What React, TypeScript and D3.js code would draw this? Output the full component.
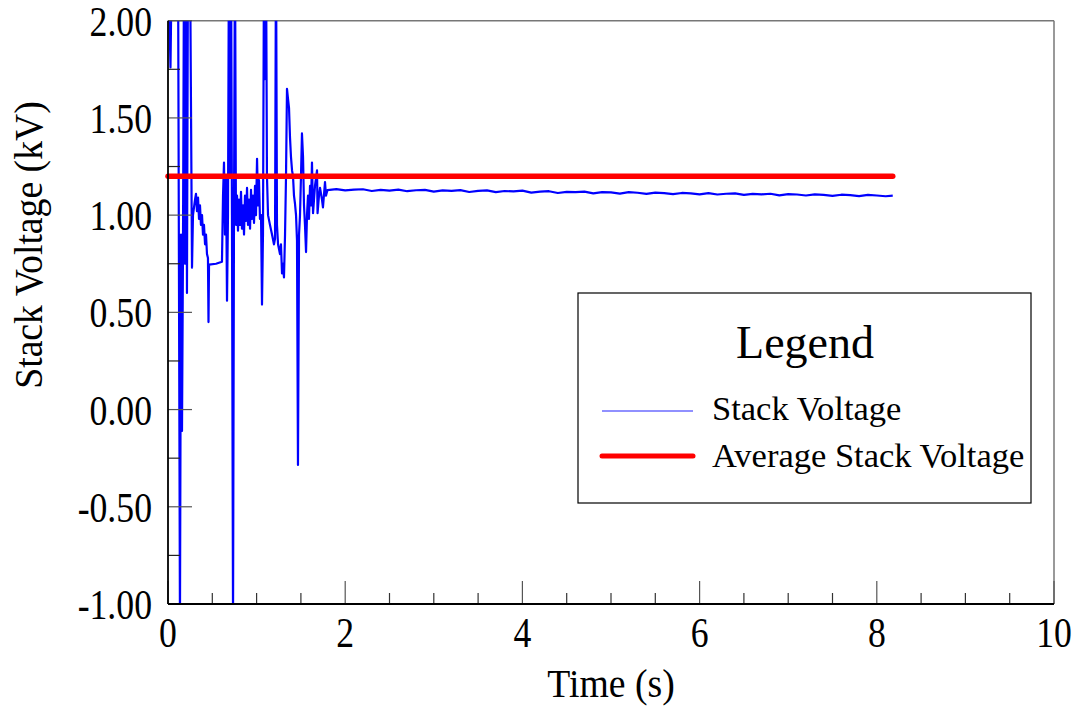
import React from "react";
import * as d3 from "d3";

// ---------- data ----------
const X_MAJOR = [0, 2, 4, 6, 8, 10];
const X_MINOR = [0.5, 1, 1.5, 2.5, 3, 3.5, 4.5, 5, 5.5, 6.5, 7, 7.5, 8.5, 9, 9.5];
const Y_MAJOR = [-1, -0.5, 0, 0.5, 1, 1.5, 2];
const Y_MINOR = [-0.75, -0.25, 0.25, 0.75, 1.25, 1.75];

// transient (start-up) part of the stack voltage, time (s)
const TRANSIENT_T = [
  0.0, 0.028, 0.045, 0.113, 0.135, 0.147, 0.158, 0.169, 0.181, 0.192, 0.203, 0.214, 0.226, 0.248,
  0.271, 0.282, 0.305, 0.316, 0.327, 0.339, 0.35, 0.361, 0.372, 0.384, 0.395, 0.406, 0.418, 0.429,
  0.44, 0.451, 0.457, 0.463, 0.542, 0.609, 0.621, 0.632, 0.643, 0.655, 0.666, 0.677, 0.688, 0.7,
  0.711, 0.722, 0.734, 0.745, 0.756, 0.767, 0.779, 0.79, 0.801, 0.813, 0.824, 0.835, 0.847, 0.858,
  0.869, 0.88, 0.892, 0.903, 0.914, 0.926, 0.937, 0.948, 0.959, 0.971, 0.982, 0.993, 1.005, 1.016,
  1.027, 1.038, 1.05, 1.061, 1.072, 1.084, 1.095, 1.106, 1.117, 1.129, 1.151, 1.174, 1.196, 1.208,
  1.219, 1.23, 1.242, 1.264, 1.275, 1.287, 1.298, 1.309, 1.321, 1.332, 1.343, 1.354, 1.366, 1.377,
  1.388, 1.4, 1.411, 1.422, 1.433, 1.445, 1.456, 1.467, 1.479, 1.49, 1.501, 1.512, 1.524, 1.535,
  1.546, 1.558, 1.569, 1.58, 1.591, 1.603, 1.614, 1.625, 1.637, 1.659, 1.682, 1.688, 1.704, 1.716,
  1.738, 1.749, 1.772, 1.783,
];
// stack voltage (kV)
const TRANSIENT_V = [
  2.4, 1.76, 2.4, 2.4, -1.1, 0.9, -0.11, 0.8, 2.4, 0.75, 2.4, 0.6, 2.4, 2.4,
  0.73, 1.0, 1.08, 1.11, 1.02, 1.09, 0.98, 1.05, 0.95, 1.0, 0.9, 0.95, 0.85, 0.9,
  0.8, 0.78, 0.45, 0.745, 0.75, 0.76, 1.1, 1.27, 0.9, 1.2, 0.56, 1.0, 2.4, 1.2,
  2.4, 1.0, -1.1, 1.05, 2.4, 0.95, 1.1, 0.92, 1.08, 0.95, 1.12, 0.93, 1.05, 0.9,
  1.1, 0.97, 1.14, 0.95, 1.08, 0.93, 1.13, 0.98, 1.1, 0.96, 1.15, 1.0, 1.29, 1.05,
  1.18, 0.98, 1.0, 0.54, 0.9, 2.4, 1.7, 2.4, 1.2, 1.0, 0.95, 0.9, 0.85, 0.88,
  2.4, 0.95, 0.85, 0.8, 0.85, 0.7, 0.75, 0.68, 0.9, 1.2, 1.65, 1.6, 1.55, 1.4,
  1.3, 1.23, 1.2, 1.1, 1.06, 1.0, 0.87, -0.285, 0.9, 1.0, 1.2, 1.42, 1.3, 1.05,
  0.95, 0.81, 1.0, 1.1, 0.98, 1.15, 1.05, 1.27, 1.01, 1.15, 1.23, 1.01, 1.1, 1.14,
  1.08, 1.04, 1.17, 1.1,
];

// settled part of the stack voltage
const STEADY_T = [
  1.8, 1.9, 2.0, 2.1, 2.2, 2.3, 2.4, 2.5, 2.6, 2.7, 2.8, 2.9, 3.0, 3.1, 3.2, 3.3, 3.4, 3.5, 3.6, 3.7,
  3.8, 3.9, 4.0, 4.1, 4.2, 4.3, 4.4, 4.5, 4.6, 4.7, 4.8, 4.9, 5.0, 5.1, 5.2, 5.3, 5.4, 5.5, 5.6, 5.7,
  5.8, 5.9, 6.0, 6.1, 6.2, 6.3, 6.4, 6.5, 6.6, 6.7, 6.8, 6.9, 7.0, 7.1, 7.2, 7.3, 7.4, 7.5, 7.6, 7.7,
  7.8, 7.9, 8.0, 8.1, 8.18,
];
const STEADY_V = [
  1.129, 1.134, 1.127, 1.131, 1.133, 1.124, 1.13, 1.126, 1.131, 1.123, 1.128, 1.13, 1.121, 1.127,
  1.125, 1.129, 1.119, 1.125, 1.127, 1.118, 1.124, 1.122, 1.126, 1.116, 1.121, 1.123, 1.114, 1.12,
  1.118, 1.121, 1.112, 1.118, 1.117, 1.111, 1.118, 1.115, 1.109, 1.116, 1.113, 1.108, 1.114, 1.112,
  1.107, 1.113, 1.106, 1.11, 1.112, 1.104, 1.109, 1.107, 1.11, 1.102, 1.108, 1.106, 1.101, 1.107,
  1.104, 1.099, 1.105, 1.103, 1.098, 1.104, 1.101, 1.097, 1.1,
];

const AVG_T = [0, 8.18];
const AVG_V = [1.2, 1.2];

const LEGEND_TITLE = "Legend";
const SERIES_NAMES = ["Stack Voltage", "Average Stack Voltage"];
const X_TITLE = "Time (s)";
const Y_TITLE = "Stack Voltage (kV)";

// ---------- layout ----------
const W = 1085;
const H = 713;
const L = 168;
const R = 1054;
const T = 20.7;
const B = 604;
const FONT = "'Liberation Serif', 'Times New Roman', serif";

export default function App() {
  const x = d3.scaleLinear().domain([0, 10]).range([L, R]);
  const y = d3.scaleLinear().domain([-1, 2]).range([B, T]);

  const stack: [number, number][] = [
    ...TRANSIENT_T.map((t, i) => [t, TRANSIENT_V[i]] as [number, number]),
    ...STEADY_T.map((t, i) => [t, STEADY_V[i]] as [number, number]),
  ];
  const avg: [number, number][] = AVG_T.map((t, i) => [t, AVG_V[i]]);

  const line = d3
    .line<[number, number]>()
    .x((d) => x(d[0]))
    .y((d) => y(d[1]));

  const fmt = (v: number) => d3.format(".2f")(v).replace("\u2212", "-");

  return (
    <svg
      width={W}
      height={H}
      style={{ position: "fixed", left: 0, top: 0, background: "#fff" }}
      fontFamily={FONT}
    >
      <defs>
        <clipPath id="plot">
          <rect x={L} y={T} width={R - L} height={B - T} />
        </clipPath>
      </defs>

      {/* frame: top & right grey */}
      <line x1={L} y1={T} x2={R} y2={T} stroke="#777" strokeWidth={1.5} />
      <line x1={R} y1={T} x2={R} y2={B} stroke="#777" strokeWidth={1.5} />

      {/* data */}
      <g clipPath="url(#plot)">
        <path d={line(stack) || ""} fill="none" stroke="#0000ff" strokeWidth={2.2} strokeLinejoin="round" />
      </g>
      <path d={line(avg) || ""} fill="none" stroke="#ff0000" strokeWidth={5.5} strokeLinecap="round" />

      {/* x ticks */}
      {X_MAJOR.map((v) => (
        <line key={"xM" + v} x1={x(v)} x2={x(v)} y1={B} y2={B - 23} stroke="#555" strokeWidth={1.2} />
      ))}
      {X_MINOR.map((v) => (
        <line key={"xm" + v} x1={x(v)} x2={x(v)} y1={B} y2={B - 11} stroke="#333" strokeWidth={1.2} />
      ))}
      {/* y ticks */}
      {Y_MAJOR.map((v) => (
        <line key={"yM" + v} x1={L} x2={L + 24} y1={y(v)} y2={y(v)} stroke="#555" strokeWidth={1.2} />
      ))}
      {Y_MINOR.map((v) => (
        <line key={"ym" + v} x1={L} x2={L + 12} y1={y(v)} y2={y(v)} stroke="#222" strokeWidth={1.2} />
      ))}

      {/* left & bottom axes */}
      <line x1={L} y1={T} x2={L} y2={B} stroke="#000" strokeWidth={1.8} />
      <line x1={L} y1={B} x2={R} y2={B} stroke="#000" strokeWidth={1.8} />

      {/* tick labels */}
      {X_MAJOR.map((v) => (
        <text
          key={"xl" + v}
          transform={`translate(${x(v)},647) scale(0.85,1)`}
          textAnchor="middle"
          fontSize={42}
          fill="#000"
        >
          {String(v)}
        </text>
      ))}
      {Y_MAJOR.map((v) => (
        <text
          key={"yl" + v}
          transform={`translate(152,${y(v) + 15}) scale(0.85,1)`}
          textAnchor="end"
          fontSize={42}
          fill="#000"
        >
          {fmt(v)}
        </text>
      ))}

      {/* axis titles */}
      <text transform="translate(611,697) scale(0.92,1)" textAnchor="middle" fontSize={41} fill="#000">
        {X_TITLE}
      </text>
      <text transform="translate(42,245) rotate(-90) scale(0.92,1)" textAnchor="middle" fontSize={41} fill="#000">
        {Y_TITLE}
      </text>

      {/* legend */}
      <rect x={578} y={293} width={453} height={210} fill="#fff" stroke="#000" strokeWidth={1.2} />
      <text x={805} y={358} textAnchor="middle" fontSize={46} fill="#000">
        {LEGEND_TITLE}
      </text>
      <line x1={602} x2={693} y1={411} y2={411} stroke="#6b6bff" strokeWidth={1.5} />
      <text x={712} y={420} fontSize={34.5} fill="#000">
        {SERIES_NAMES[0]}
      </text>
      <line x1={602} x2={693} y1={456} y2={456} stroke="#ff0000" strokeWidth={5} strokeLinecap="round" />
      <text x={712} y={467} fontSize={34.5} fill="#000">
        {SERIES_NAMES[1]}
      </text>
    </svg>
  );
}
